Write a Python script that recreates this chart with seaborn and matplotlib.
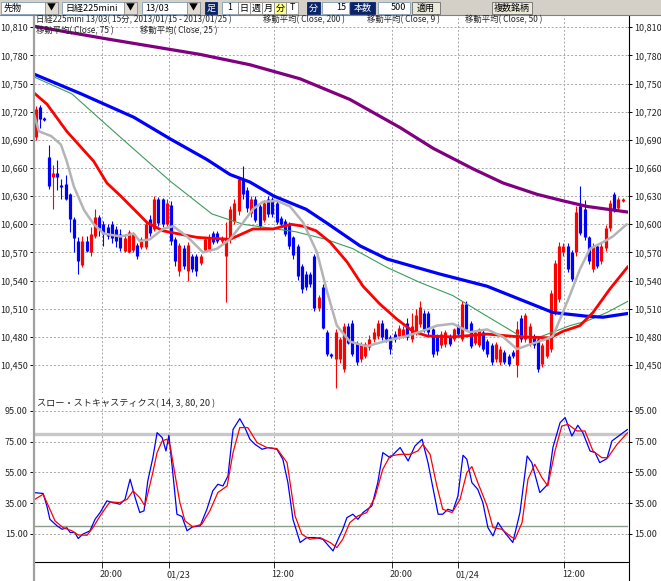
import numpy as np
import pandas as pd
import matplotlib
matplotlib.use("Agg")
import matplotlib.pyplot as plt
import matplotlib.ticker as mticker
import matplotlib.transforms as mtransforms
from matplotlib.patches import Rectangle
from matplotlib.lines import Line2D
import seaborn as sns

# ---------------- data (15-minute bars, Nikkei 225 mini 13/03) ----------------
opens = [10693, 10725, 10713, 10672, 10650, 10655, 10641, 10643, 10632, 10606,
         10582, 10557, 10582, 10570, 10588, 10608, 10600, 10597, 10600, 10595,
         10590, 10572, 10571, 10573, 10578, 10576, 10576, 10606, 10595, 10627,
         10627, 10600, 10621, 10584, 10550, 10575, 10550, 10566, 10566, 10559,
         10573, 10574, 10591, 10591, 10582, 10566, 10584, 10604, 10614, 10648,
         10636, 10612, 10627, 10620, 10605, 10627, 10627, 10623, 10607, 10604,
         10600, 10586, 10577, 10556, 10547, 10547, 10566, 10511, 10533, 10485,
         10462, 10456, 10456, 10446, 10492, 10495, 10474, 10456, 10460, 10469,
         10478, 10481, 10495, 10488, 10480, 10483, 10481, 10481, 10495, 10478,
         10485, 10494, 10506, 10506, 10488, 10481, 10471, 10472, 10481, 10478,
         10492, 10478, 10515, 10495, 10473, 10471, 10485, 10476, 10471, 10456,
         10453, 10464, 10460, 10464, 10450, 10500, 10478, 10474, 10481, 10478,
         10451, 10460, 10467, 10506, 10520, 10570, 10577, 10570, 10570, 10620,
         10616, 10586, 10552, 10577, 10561, 10575, 10596, 10632, 10617, 10625]
highs = [10726, 10727, 10714, 10684, 10663, 10668, 10648, 10652, 10633, 10608,
         10586, 10587, 10587, 10597, 10616, 10610, 10603, 10600, 10603, 10598,
         10595, 10590, 10594, 10592, 10580, 10586, 10604, 10610, 10630, 10629,
         10628, 10627, 10625, 10586, 10580, 10578, 10581, 10568, 10568, 10568,
         10586, 10590, 10593, 10593, 10587, 10602, 10620, 10627, 10650, 10662,
         10640, 10630, 10630, 10623, 10626, 10630, 10629, 10626, 10609, 10606,
         10602, 10588, 10579, 10558, 10550, 10549, 10568, 10525, 10536, 10487,
         10463, 10488, 10480, 10495, 10495, 10498, 10476, 10475, 10475, 10482,
         10490, 10498, 10498, 10490, 10482, 10486, 10493, 10492, 10500, 10506,
         10510, 10518, 10509, 10508, 10490, 10483, 10486, 10487, 10483, 10490,
         10494, 10518, 10518, 10497, 10487, 10490, 10487, 10478, 10473, 10475,
         10470, 10466, 10462, 10466, 10497, 10503, 10506, 10495, 10483, 10480,
         10474, 10480, 10530, 10562, 10581, 10580, 10580, 10573, 10620, 10641,
         10626, 10588, 10580, 10579, 10580, 10599, 10626, 10634, 10629, 10628]
lows = [10690, 10703, 10710, 10638, 10616, 10636, 10627, 10626, 10592, 10570,
        10547, 10555, 10570, 10566, 10585, 10587, 10577, 10584, 10580, 10576,
        10572, 10570, 10569, 10570, 10563, 10574, 10574, 10588, 10593, 10598,
        10597, 10598, 10578, 10556, 10545, 10552, 10540, 10549, 10545, 10557,
        10571, 10572, 10579, 10580, 10580, 10517, 10580, 10600, 10610, 10627,
        10613, 10608, 10602, 10595, 10602, 10608, 10608, 10600, 10597, 10588,
        10574, 10563, 10541, 10527, 10530, 10533, 10508, 10508, 10488, 10460,
        10458, 10426, 10452, 10443, 10472, 10460, 10450, 10453, 10457, 10466,
        10475, 10478, 10477, 10475, 10462, 10475, 10478, 10479, 10477, 10475,
        10482, 10491, 10485, 10482, 10459, 10461, 10468, 10469, 10470, 10476,
        10481, 10476, 10486, 10468, 10471, 10469, 10465, 10459, 10450, 10453,
        10450, 10451, 10449, 10457, 10437, 10475, 10475, 10470, 10468, 10443,
        10448, 10457, 10464, 10503, 10517, 10566, 10549, 10540, 10566, 10589,
        10583, 10558, 10549, 10553, 10558, 10572, 10593, 10613, 10615, 10624]
closes = [10723, 10712, 10711, 10641, 10655, 10650, 10640, 10627, 10606, 10585,
          10561, 10582, 10572, 10590, 10608, 10596, 10590, 10588, 10585, 10582,
          10575, 10585, 10592, 10590, 10566, 10584, 10600, 10591, 10627, 10601,
          10600, 10623, 10582, 10561, 10578, 10556, 10578, 10552, 10550, 10566,
          10584, 10585, 10581, 10582, 10585, 10584, 10616, 10623, 10648, 10632,
          10617, 10627, 10605, 10598, 10623, 10611, 10611, 10602, 10600, 10590,
          10577, 10567, 10545, 10531, 10533, 10536, 10511, 10522, 10490, 10462,
          10460, 10485, 10478, 10492, 10474, 10462, 10453, 10472, 10472, 10478,
          10485, 10495, 10480, 10478, 10467, 10478, 10490, 10488, 10480, 10492,
          10503, 10512, 10488, 10485, 10462, 10465, 10483, 10485, 10472, 10488,
          10483, 10515, 10488, 10470, 10485, 10488, 10467, 10462, 10453, 10472,
          10467, 10453, 10451, 10460, 10488, 10478, 10503, 10492, 10471, 10446,
          10471, 10478, 10527, 10559, 10577, 10577, 10552, 10542, 10613, 10591,
          10586, 10561, 10577, 10556, 10577, 10596, 10623, 10616, 10627, 10627]

# moving averages (bar position, price)
ma200_pos = [-0.47, 17.5, 38.9, 50.7, 62.6, 74.4, 86.3, 94.1, 103.6, 110.7, 118.7, 124.9, 130.6, 140.3]
ma200_val = [10811, 10797, 10781, 10770, 10755, 10733, 10703, 10681, 10659, 10644, 10632, 10625, 10619, 10613]

ma75_pos = [-0.47, 10.7, 23.2, 31.8, 40.5, 46.0, 50.7, 56.4, 64.0, 68.7, 76.8, 83.2, 91.0, 95.7,
            106.9, 114.7, 122.5, 130.6, 134.4, 140.3]
ma75_val = [10760, 10739, 10714, 10691, 10669, 10653, 10645, 10630, 10616, 10602, 10577, 10563,
            10553, 10547, 10534, 10520, 10506, 10502, 10501, 10505]

ma50_pos = [-0.47, 8.5, 15.2, 23.2, 31.8, 41.7, 49.1, 61.6, 68.7, 75.1, 83.2, 91.0, 98.8, 106.9,
            114.7, 119.4, 122.5, 126.5, 130.6, 135.3, 140.3]
ma50_val = [10757, 10739, 10712, 10680, 10646, 10611, 10600, 10592, 10584, 10574, 10554, 10538,
            10524, 10502, 10481, 10480, 10485, 10492, 10497, 10506, 10518]

ma25_pos = [-0.47, 2.6, 7.3, 13.7, 16.8, 20.1, 23.2, 26.3, 30.1, 38.2, 46.0, 51.4, 56.2, 60.4,
            63.3, 66.4, 69.7, 73.7, 77.5, 81.5, 85.5, 89.3, 92.7, 98.8, 106.9, 114.7, 121.8,
            124.9, 128.9, 132.0, 136.0, 140.3]
ma25_val = [10740, 10728, 10699, 10667, 10644, 10630, 10616, 10602, 10593, 10586, 10584, 10595,
            10595, 10600, 10598, 10593, 10581, 10560, 10534, 10515, 10499, 10486, 10481, 10480,
            10483, 10480, 10479, 10486, 10492, 10506, 10531, 10555]

ma9_pos = [-0.47, 0.7, 3.6, 5.9, 7.3, 9.0, 11.4, 13.7, 16.1, 20.1, 23.2, 24.6, 27.0, 30.1,
           32.5, 35.8, 39.6, 42.9, 46.0, 49.1, 51.4, 53.8, 57.1, 60.2, 63.3, 66.6, 69.0,
           71.3, 74.4, 78.4, 83.2, 87.9, 92.7, 95.0, 98.8, 102.8, 106.9, 110.7, 114.0,
           117.1, 121.1, 122.5, 124.2, 126.5, 128.9, 131.3, 134.4, 136.7, 140.0]
ma9_val = [10717, 10699, 10694, 10685, 10667, 10640, 10615, 10600, 10590, 10587, 10590, 10582,
           10584, 10595, 10598, 10587, 10570, 10574, 10584, 10602, 10616, 10624, 10625, 10619,
           10602, 10570, 10528, 10492, 10475, 10470, 10476, 10481, 10488, 10492, 10494, 10485,
           10488, 10480, 10467, 10472, 10478, 10481, 10499, 10524, 10552, 10574, 10581, 10587,
           10600]

# slow stochastics (14, 3): %K blue, %D red
k_pos = [-0.5, 1.7, 2.6, 3.3, 5.0, 6.2, 7.3, 8.1, 9.2, 10.0, 11.1, 12.8, 14.0, 15.2, 16.8,
         18.2, 19.9, 21.1, 22.3, 23.5, 24.6, 25.6, 26.5, 27.7, 28.7, 29.9, 30.8, 31.5, 32.5,
         33.4, 34.6, 35.8, 37.2, 38.9, 40.5, 41.9, 43.1, 44.3, 45.5, 46.7, 48.3, 49.5, 50.7,
         51.9, 53.6, 55.0, 57.1, 58.5, 59.7, 60.9, 62.6, 64.2, 66.1, 68.0, 69.7, 70.4, 71.6,
         72.7, 73.7, 75.1, 76.3, 77.5, 79.6, 81.0, 82.2, 83.9, 86.3, 88.2, 89.8, 91.5, 92.9,
         95.3, 96.4, 97.6, 98.8, 100.0, 101.2, 102.1, 103.3, 104.7, 105.9, 107.1, 108.3,
         109.5, 111.1, 113.0, 114.7, 116.4, 117.5, 119.4, 121.3, 122.5, 124.2, 125.4, 127.0,
         128.4, 129.6, 131.3, 132.5, 133.6, 135.3, 136.5, 138.6, 140.2]
k_val = [41.9, 41.3, 33.0, 24.5, 20.2, 18.0, 19.0, 15.9, 15.9, 12.0, 14.8, 17.0, 24.5, 28.9,
         36.5, 35.4, 34.3, 37.5, 50.6, 38.6, 28.9, 30.0, 49.5, 64.6, 80.9, 77.7, 69.0, 79.2,
         52.7, 27.8, 26.3, 17.0, 19.8, 20.2, 31.0, 43.0, 47.3, 46.2, 52.7, 83.0, 90.0, 84.2,
         76.6, 73.3, 70.1, 71.2, 70.1, 63.6, 48.4, 24.5, 9.4, 12.6, 12.6, 11.5, 6.1, 3.9,
         11.5, 18.0, 25.6, 27.8, 24.5, 28.9, 33.2, 48.4, 67.9, 64.6, 71.2, 62.5, 72.2, 76.6,
         61.4, 27.8, 27.8, 31.0, 30.0, 39.7, 66.2, 63.6, 48.4, 44.0, 35.4, 19.1, 13.7, 22.4,
         15.9, 9.4, 28.9, 65.7, 61.4, 41.9, 47.3, 71.2, 87.4, 90.7, 78.7, 85.7, 80.9, 69.0,
         67.9, 61.4, 64.0, 75.5, 79.8, 83.0]
d_pos = [-0.5, 1.7, 3.3, 4.5, 6.4, 8.5, 10.0, 12.1, 13.5, 15.2, 17.5, 19.9, 21.6, 23.0, 24.6,
         25.8, 27.5, 28.7, 29.9, 31.0, 31.8, 33.0, 34.1, 35.3, 37.2, 39.3, 41.2, 43.1, 45.3,
         46.7, 48.3, 50.2, 52.4, 54.7, 57.1, 59.5, 61.4, 63.0, 64.9, 67.3, 69.7, 71.3, 72.7,
         74.4, 76.3, 78.4, 80.3, 82.2, 83.9, 86.3, 88.6, 90.5, 91.7, 93.4, 95.0, 96.4, 98.6,
         100.5, 102.1, 103.3, 104.7, 106.9, 108.3, 110.4, 112.3, 113.5, 115.2, 116.6, 118.2,
         119.9, 121.3, 123.0, 124.6, 126.1, 128.2, 130.1, 132.0, 134.1, 135.5, 137.7, 140.2]
d_val = [37.1, 40.8, 31.0, 23.5, 19.1, 17.0, 14.3, 14.1, 19.1, 26.7, 35.8, 35.4, 37.5, 43.0,
         38.6, 33.2, 52.7, 67.9, 75.5, 76.6, 72.2, 52.7, 35.4, 23.5, 19.5, 21.3, 30.0, 41.9,
         46.2, 67.9, 84.2, 84.2, 74.4, 71.2, 70.5, 61.4, 26.7, 14.8, 11.5, 12.6, 9.4, 6.1,
         11.5, 22.4, 26.7, 28.9, 38.6, 57.1, 65.7, 66.8, 66.8, 69.0, 73.3, 66.8, 46.2, 31.0,
         28.9, 37.5, 54.9, 58.8, 48.4, 33.2, 19.1, 18.0, 13.7, 11.5, 22.4, 50.6, 60.3, 51.6,
         46.2, 69.0, 85.2, 86.3, 82.0, 82.0, 69.0, 64.6, 64.6, 73.3, 80.9]
stoch_levels = [80, 20]

price_ticks = [10450, 10480, 10510, 10540, 10570, 10600, 10630, 10660, 10690, 10720, 10750, 10780, 10810]
stoch_ticks = [15, 35, 55, 75, 95]
time_tick_pos = [15.6, 31.6, 56.4, 84.4, 100.1, 125.2]
time_tick_labels = ["20:00", "01/23", "12:00", "20:00", "01/24", "12:00"]

title_items = [("日経225mini 13/03( 15分, 2013/01/15 - 2013/01/25 )", 36, 20),
               ("移動平均( Close, 200 )", 263, 20),
               ("移動平均( Close, 9 )", 367, 20),
               ("移動平均( Close, 50 )", 465, 20),
               ("移動平均( Close, 75 )", 36, 30.5),
               ("移動平均( Close, 25 )", 140, 30.5)]
stoch_title = "スロー・ストキャスティクス( 14, 3, 80, 20 )"

# ---------------- style ----------------
sns.set_style("white")
plt.rcParams['font.family'] = ['Noto Sans CJK JP', 'DejaVu Sans']
FS = 6.5

W, H = 661, 581
fig = plt.figure(figsize=(W / 100, H / 100), dpi=100)
fig.patch.set_facecolor('white')


def fx(x):
    return x / W


def fy(y):
    return 1 - y / H


PX_TOP, PX_PB, PX_ST, PX_SB = 15, 393, 395, 562
ax1 = fig.add_axes([fx(34), fy(PX_PB), fx(628) - fx(34), fy(PX_TOP) - fy(PX_PB)])
ax2 = fig.add_axes([fx(34), fy(PX_SB), fx(628) - fx(34), fy(PX_ST) - fy(PX_SB)], sharex=ax1)

# price scale: 10810 at y=27.2 px, 0.9385 px per yen
p_top = 10810 + (27.2 - PX_TOP) / 0.9385
p_bot = 10810 - (PX_PB - 27.2) / 0.9385
ax1.set_ylim(p_bot, p_top)
ax1.set_xlim(-0.47, 140.3)
s_top = 95 + (411 - PX_ST) / 1.536
s_bot = 95 - (PX_SB - 411) / 1.536
ax2.set_ylim(s_bot, s_top)

grid_kw = dict(color='#a8a8a8', linestyle=(0, (2, 2)), linewidth=0.7)
for ax in (ax1, ax2):
    ax.set_facecolor('white')
    ax.set_axisbelow(True)
    ax.grid(True, **grid_kw)

# ---------------- candles ----------------
df = pd.DataFrame({'o': opens, 'h': highs, 'l': lows, 'c': closes})
df['i'] = np.arange(len(df))
up = df['c'] >= df['o']
cols = np.where(up, '#ff0000', '#0000ff')
blo = np.minimum(df['o'], df['c'])
bhi = np.maximum(np.maximum(df['o'], df['c']), blo + 1.6)
ax1.vlines(df['i'], df['l'], df['h'], colors=cols, lw=0.8, zorder=2)
ax1.vlines(df['i'], blo, bhi, colors=cols, lw=2.3, zorder=2, capstyle='butt')

# ---------------- moving averages ----------------
ma_specs = [(ma50_pos, ma50_val, '#3c9c5c', 0.8),
            (ma200_pos, ma200_val, '#800080', 2.3),
            (ma75_pos, ma75_val, '#0000ff', 2.3),
            (ma25_pos, ma25_val, '#ff0000', 2.0),
            (ma9_pos, ma9_val, '#b4b4b4', 1.8)]
for pos, val, col, lw in ma_specs:
    sns.lineplot(x=pos, y=val, ax=ax1, color=col, linewidth=lw, estimator=None,
                 sort=False, legend=False, zorder=3)

# ---------------- stochastics ----------------
ax2.axhline(stoch_levels[0], color='#c8c8c8', lw=2.4, zorder=1)
ax2.axhline(stoch_levels[1], color='#8c9c8c', lw=1.0, zorder=1)
sns.lineplot(x=k_pos, y=k_val, ax=ax2, color='#0000ff', linewidth=0.9, estimator=None,
             sort=False, legend=False, zorder=3)
sns.lineplot(x=d_pos, y=d_val, ax=ax2, color='#ff0000', linewidth=0.9, estimator=None,
             sort=False, legend=False, zorder=3)

# ---------------- axes / ticks ----------------
ax1.set_yticks(price_ticks)
ax1.yaxis.set_major_formatter(mticker.FuncFormatter(lambda v, p: f"{int(round(v)):,}"))
ax2.set_yticks(stoch_ticks)
ax2.yaxis.set_major_formatter(mticker.FuncFormatter(lambda v, p: f"{v:.2f}"))
ax2.set_xticks(time_tick_pos)
ax2.set_xticklabels(time_tick_labels)
for ax in (ax1, ax2):
    ax.set_xlabel('')
    ax.set_ylabel('')
    ax.tick_params(axis='y', left=True, right=True, labelleft=True, labelright=True,
                   length=3, width=0.7, color='black', pad=1.5, labelsize=FS, direction='out')
ax1.tick_params(axis='x', bottom=False, labelbottom=False)
ax2.tick_params(axis='x', bottom=True, length=4, width=0.7, labelsize=FS, pad=2)
offset = mtransforms.ScaledTranslation(9 / 100, 0, fig.dpi_scale_trans)
for lab in ax2.get_xticklabels():
    lab.set_transform(lab.get_transform() + offset)

for ax in (ax1, ax2):
    for s in ('top', 'bottom', 'left', 'right'):
        ax.spines[s].set_visible(False)
ax2.spines['bottom'].set_visible(True)
ax2.spines['bottom'].set_color('black')
ax2.spines['bottom'].set_linewidth(0.8)

# frame lines
fig.add_artist(Line2D([fx(33.5), fx(33.5)], [0, fy(PX_TOP)], color='#a0a0a0', lw=1.6))
fig.add_artist(Line2D([fx(628.5), fx(628.5)], [0, fy(PX_TOP)], color='black', lw=0.8))

# chart texts
for s, x, y in title_items:
    fig.text(fx(x), fy(y), s, fontsize=6.0, ha='left', va='center')
fig.text(fx(37), fy(403.5), stoch_title, fontsize=6.6, ha='left', va='center')

# ---------------- toolbar ----------------
fig.add_artist(Rectangle((0, fy(PX_TOP)), 1, 1 - fy(PX_TOP), transform=fig.transFigure,
                         facecolor='#d4d0c8', edgecolor='none'))
fig.add_artist(Line2D([0, 1], [fy(PX_TOP), fy(PX_TOP)], color='#808080', lw=0.8))


def box(x0, x1, face='white', edge='#7f9db9'):
    fig.add_artist(Rectangle((fx(x0), fy(14)), fx(x1) - fx(x0), fy(2) - fy(14),
                             transform=fig.transFigure, facecolor=face, edgecolor=edge, lw=0.6))


def label(x, s, color='black', ha='left'):
    fig.text(fx(x), fy(8), s, fontsize=6.5, ha=ha, va='center', color=color)


combos = [(1, 58, "先物"), (62, 137, "日経225mini"), (142, 200, "13/03")]
for x0, x1, s in combos:
    box(x0, x1)
    box(x1 - 13, x1, face='#e0dcd4', edge='#8c8c8c')
    label(x0 + 3, s)
    label(x1 - 6.5, "▼", ha='center')
box(205, 217, face='#0a246a', edge='#0a246a'); label(211, "足", 'white', 'center')
box(222, 238); label(230, "1", ha='center')
for xx, s, face in [(238, "日", 'white'), (250, "週", 'white'), (262, "月", 'white'),
                    (274, "分", '#ffff80'), (286, "T", 'white')]:
    box(xx, xx + 12, face=face, edge='#8c8c8c'); label(xx + 6, s, ha='center')
box(307, 320, face='#0a246a', edge='#0a246a'); label(313.5, "分", 'white', 'center')
box(322, 349); label(346, "15", ha='right')
box(350, 375, face='#0a246a', edge='#0a246a'); label(362.5, "本数", 'white', 'center')
box(378, 410); label(406, "500", ha='right')
box(412, 440, face='#ece9d8', edge='#6c6c6c'); label(426, "適用", ha='center')
box(492, 532, face='#ece9d8', edge='#6c6c6c'); label(512, "複数銘柄", ha='center')

fig.savefig("out.png", dpi=100)
